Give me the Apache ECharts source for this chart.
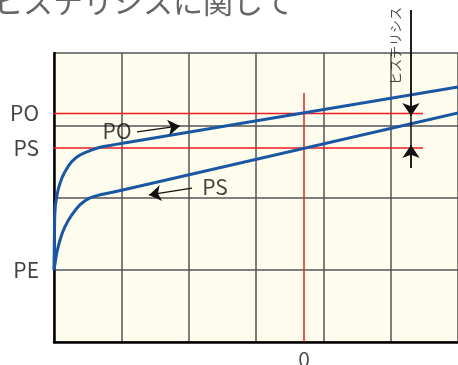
<!DOCTYPE html>
<html><head><meta charset="utf-8">
<script src="https://cdn.jsdelivr.net/npm/echarts@6/dist/echarts.min.js"></script>
<style>html,body{margin:0;padding:0;background:#fff}#c{width:458px;height:365px}</style>
</head><body><div id="c"></div>
<script>
// ---- data (axis units: x 0..6 columns, y 0..4 rows) ----
const titleText = 'ヒステリシスに関して';
const hysteresisText = 'ヒステリシス';
const upperX = [0, 0.0045, 0.0104, 0.02, 0.04, 0.062, 0.089, 0.122, 0.163, 0.21, 0.263, 0.32, 0.386, 0.46, 0.535, 0.61, 0.683, 0.76, 0.832, 0.92, 1.02, 6.0];
const upperY = [0.997, 1.343, 1.734, 1.89, 2.011, 2.11, 2.197, 2.28, 2.357, 2.43, 2.496, 2.546, 2.588, 2.622, 2.65, 2.674, 2.695, 2.709, 2.721, 2.735, 2.75, 3.529];
const lowerX = [0, 0.008, 0.019, 0.04, 0.062, 0.089, 0.122, 0.163, 0.21, 0.263, 0.32, 0.386, 0.46, 0.535, 0.61, 0.683, 0.76, 0.832, 0.92, 1.02, 6.0];
const lowerY = [0.997, 1.05, 1.107, 1.228, 1.32, 1.412, 1.505, 1.596, 1.68, 1.758, 1.83, 1.9, 1.955, 1.995, 2.018, 2.037, 2.052, 2.066, 2.084, 2.104, 3.17];
const levelNames = ['PO', 'PS', 'PE'];
const levelValues = [3.163, 2.685, 1.0];
const redLineStartX = -0.21, redLineEndX = 5.48;
const zeroX = 3.713, zeroTopY = 3.446;
const zeroLabel = '0';
const hystX = 5.302, hystTopY = 4.595, hystBottomY = 2.408, hystTipPO = 3.128, hystTipPS = 2.727;
const hystLabelPos = [5.064, 4.097];
const noteLabels = ['PO', 'PS'];
const notePos = [[0.936, 2.92], [2.391, 2.145]];
const noteArrows = [[[1.233, 2.907], [1.872, 2.99]], [[2.05, 2.131], [1.411, 2.035]]];

const FONT = '"Noto Sans CJK JP", "Noto Sans", sans-serif';
const zip = (a, b) => a.map((v, i) => [v, b[i]]);
const chart = echarts.init(document.getElementById('c'), null, {renderer: 'canvas'});
const red = '#ee1c25', blue = '#1a57a3';

const series = [];
levelValues.slice(0, 2).forEach(v => {
  series.push({type: 'line', data: [[redLineStartX, v], [redLineEndX, v]], clip: false, symbol: 'none',
    lineStyle: {color: red, width: 1.5}, z: 3, silent: true});
});
series.push({type: 'line', data: [[zeroX, 0], [zeroX, zeroTopY]], clip: false, symbol: 'none',
  lineStyle: {color: red, width: 1.5}, z: 3});
series.push({type: 'line', data: zip(upperX, upperY), symbol: 'none', smooth: false, clip: false,
  lineStyle: {color: blue, width: 3, join: 'round'}, z: 5});
series.push({type: 'line', data: zip(lowerX, lowerY), symbol: 'none', smooth: false, clip: false,
  lineStyle: {color: blue, width: 3, join: 'round'}, z: 5});
series.push({type: 'scatter', data: levelValues.map((v, i) => ({value: [0, v], name: levelNames[i]})),
  symbolSize: 0.01, clip: false, z: 6,
  label: {show: true, position: 'left', distance: 15, formatter: p => p.name,
    fontSize: 21, color: '#111', fontFamily: FONT}});
series.push({type: 'scatter', data: [{value: [zeroX, 0], name: zeroLabel}], symbolSize: 0.01, clip: false, z: 6,
  label: {show: true, position: 'bottom', distance: 7, formatter: p => p.name,
    fontSize: 21, color: '#222', fontFamily: FONT}});
series.push({type: 'scatter', data: notePos.map((p, i) => ({value: p, name: noteLabels[i]})),
  symbolSize: 0.01, clip: false, z: 6,
  label: {show: true, position: 'inside', formatter: p => p.name,
    fontSize: 21, color: '#111', fontFamily: FONT}});
series.push({type: 'lines', coordinateSystem: 'cartesian2d', clip: false, z: 6,
  symbol: ['none', 'arrow'], symbolSize: [6, 12],
  lineStyle: {color: '#111', width: 1.3, opacity: 1},
  data: noteArrows.map(a => ({coords: a}))});
series.push({type: 'lines', coordinateSystem: 'cartesian2d', clip: false, z: 6,
  symbol: ['none', 'arrow'], symbolSize: [7, 13],
  lineStyle: {color: '#111', width: 1.5, opacity: 1},
  data: [{coords: [[hystX, hystTopY], [hystX, hystTipPO]]}, {coords: [[hystX, hystBottomY], [hystX, hystTipPS]]}]});
series.push({type: 'line', data: [[hystX, hystTopY], [hystX, hystBottomY]], clip: false, symbol: 'none',
  lineStyle: {color: '#111', width: 1.5}, z: 6});
series.push({type: 'scatter', data: [{value: hystLabelPos, name: hysteresisText}], symbolSize: 0.01, clip: false, z: 6,
  label: {show: true, position: 'inside', rotate: 90, formatter: p => p.name,
    fontSize: 13, color: '#222', fontFamily: FONT}});

chart.setOption({
  animation: false,
  backgroundColor: '#ffffff',
  title: {text: titleText, left: -12, top: -18,
    textStyle: {fontSize: 30, fontWeight: 'normal', color: '#666', fontFamily: FONT}},
  grid: {left: 54, right: 0, top: 53, bottom: 23, show: true, backgroundColor: '#fefcec', borderWidth: 0},
  xAxis: {type: 'value', min: 0, max: 6, interval: 1,
    axisLine: {show: true, lineStyle: {color: '#000', width: 2.5}}, axisTick: {show: false}, axisLabel: {show: false},
    splitLine: {show: true, lineStyle: {color: '#555', width: 1.5}}},
  yAxis: {type: 'value', min: 0, max: 4, interval: 1,
    axisLine: {show: true, onZero: false, lineStyle: {color: '#000', width: 2.5}}, axisTick: {show: false}, axisLabel: {show: false},
    splitLine: {show: true, lineStyle: {color: '#555', width: 1.5}}},
  series: series
});
</script></body></html>
